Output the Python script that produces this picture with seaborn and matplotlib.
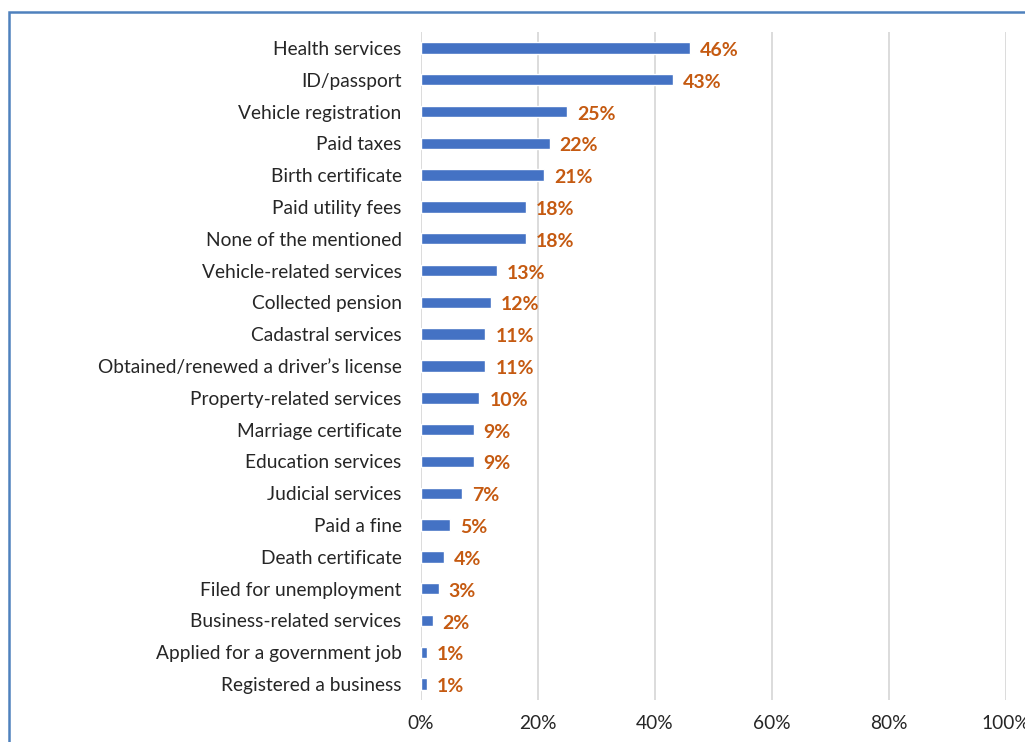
import matplotlib
matplotlib.use("Agg")
import matplotlib.pyplot as plt
import matplotlib.patches as mpatches
from matplotlib.ticker import FuncFormatter, MultipleLocator
import seaborn as sns
import pandas as pd

services = [
    "Health services", "ID/passport", "Vehicle registration", "Paid taxes",
    "Birth certificate", "Paid utility fees", "None of the mentioned",
    "Vehicle-related services", "Collected pension", "Cadastral services",
    "Obtained/renewed a driver\u2019s license", "Property-related services",
    "Marriage certificate", "Education services", "Judicial services",
    "Paid a fine", "Death certificate", "Filed for unemployment",
    "Business-related services", "Applied for a government job",
    "Registered a business",
]
shares = [46, 43, 25, 22, 21, 18, 18, 13, 12, 11, 11, 10, 9, 9, 7, 5, 4, 3, 2, 1, 1]

df = pd.DataFrame({"service": services, "share": shares})

sns.set_theme(style="white")
plt.rcParams["font.family"] = ["Lato", "DejaVu Sans"]

fig = plt.figure(figsize=(10.25, 7.42), dpi=100)
ax = fig.add_axes([0.4107, 0.0566, 0.5708, 0.9003])

sns.barplot(data=df, x="share", y="service", color="#4472C4", width=0.36,
            saturation=1, ax=ax, orient="h")

ax.set_xlim(0, 100)
ax.set_ylim(len(services) - 0.5, -0.5)
ax.xaxis.set_major_locator(MultipleLocator(20))
ax.xaxis.set_major_formatter(FuncFormatter(lambda v, _: f"{v:.0f}%"))
ax.grid(axis="x", color="#D9D9D9", linewidth=1.3)
ax.set_axisbelow(True)
for s in ax.spines.values():
    s.set_visible(False)
ax.set_xlabel("")
ax.set_ylabel("")
ax.tick_params(axis="both", length=0, labelsize=13.8, colors="#262626")
ax.tick_params(axis="y", pad=14)
ax.tick_params(axis="x", pad=11)

for i, v in enumerate(shares):
    ax.text(v + 1.7, i + 0.08, f"{v}%", va="center", ha="left", fontsize=14,
            fontweight="bold", color="#C55A11")

# outer frame
fig.patches.append(mpatches.Rectangle((9 / 1025, -0.1), 1.2, 1.1 - 11.5 / 742,
                                      transform=fig.transFigure, fill=False,
                                      edgecolor="#4F81BD", linewidth=1.8))

fig.savefig("out.png", dpi=100)
